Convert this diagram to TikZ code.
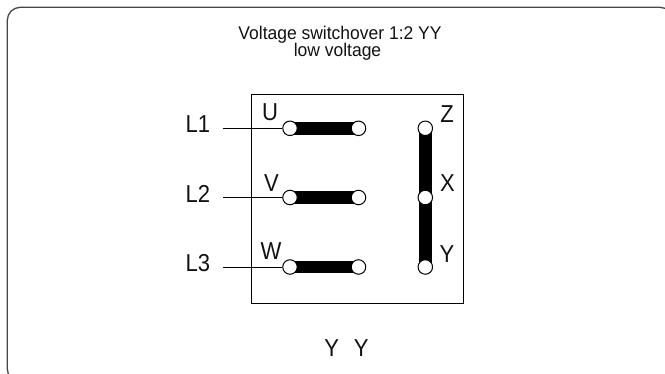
\documentclass[tikz,border=0pt]{standalone}
\usepackage{fontspec}
\setmainfont{Liberation Sans}
\newfontfamily\lblfont[FakeStretch=0.9]{Liberation Sans}
\newfontfamily\ttlfont[FakeStretch=0.95]{Liberation Sans}
\pgfdeclarelayer{background}
\pgfsetlayers{background,main}
\tikzset{
  lbl/.style={anchor=base, inner sep=0pt, font=\lblfont\fontsize{24.5}{26}\selectfont, text=black!93},
  ttl/.style={anchor=base, inner sep=0pt, font=\ttlfont\fontsize{18.4}{20}\selectfont, text=black!93},
  term/.style={circle, draw=black, line width=1pt, fill=white, minimum size=14.5pt, inner sep=0pt},
  bar/.style={line width=12.5pt, black},
  lead/.style={line width=0.9pt, black},
  frame/.style={line width=1.3pt, black!72, rounded corners=13pt},
  boxline/.style={line width=1.3pt, black}
}
\begin{document}
\begin{tikzpicture}[x=1pt, y=-1pt]
\useasboundingbox (0,0) rectangle (665,374);
\clip (0,0) rectangle (665,374);
\draw[frame] (7.3,7.3) rectangle (673,382);
\node[ttl] (title1) at (340,39.5) {Voltage switchover 1:2 YY};
\node[ttl] (title2) at (337.5,57) {low voltage};
\node[draw, boxline, minimum width=211.5pt, minimum height=209pt, inner sep=0pt, anchor=north west] (box) at (251,94) {};
% terminals
\node[term] (u1) at (290,128.3) {};
\node[term] (u2) at (358.5,128.3) {};
\node[term] (v1) at (290,197.5) {};
\node[term] (v2) at (358.5,197.5) {};
\node[term] (w1) at (290,267) {};
\node[term] (w2) at (358.5,267) {};
\node[term] (z) at (425.3,128.3) {};
\node[term] (x) at (425.3,197.5) {};
\node[term] (y) at (425.3,267) {};
\begin{pgfonlayer}{background}
\draw[bar] (u1.center) -- (u2.center);
\draw[bar] (v1.center) -- (v2.center);
\draw[bar] (w1.center) -- (w2.center);
\draw[bar] (z.center) -- (y.center);
\end{pgfonlayer}
% labels
\node[lbl] (lu) at (270,121) {U};
\node[lbl] (lv) at (271.5,191.5) {V};
\node[lbl] (lw) at (271,260) {W};
\node[lbl] (lz) at (447,123) {Z};
\node[lbl] (lx) at (447.5,191.5) {X};
\node[lbl] (ly) at (447,263) {Y};
\node[lbl] (L1) at (198,133) {L1};
\node[lbl] (L2) at (198,202.5) {L2};
\node[lbl] (L3) at (198,272) {L3};
\coordinate (s1) at (223,128.3);
\coordinate (s2) at (223,197.5);
\coordinate (s3) at (223,267);
\draw[lead] (s1) -- (u1);
\draw[lead] (s2) -- (v1);
\draw[lead] (s3) -- (w1);
\node[lbl] (yy) at (346.5,356.5) {Y\hspace{15pt}Y};
\end{tikzpicture}
\end{document}
